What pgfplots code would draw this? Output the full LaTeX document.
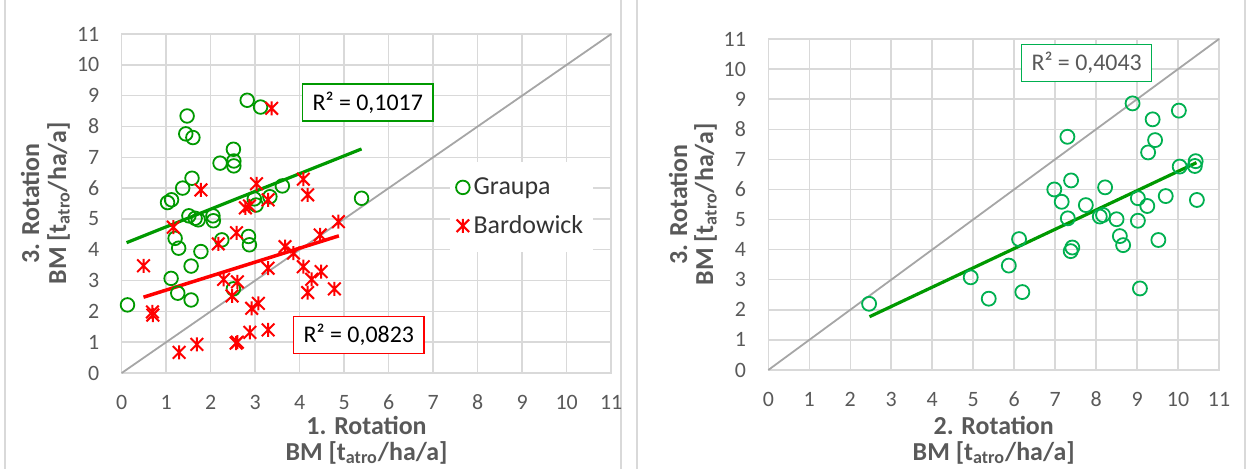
\documentclass[border=0pt]{standalone}
\usepackage{fontspec}
\setmainfont{Carlito}
\usepackage{pgfplots}
\usepackage{pgfplotstable}
\pgfplotsset{compat=1.18}
\definecolor{gridc}{HTML}{D9D9D9}
\definecolor{txt}{HTML}{595959}
\definecolor{grn}{HTML}{009900}
\definecolor{grn2}{HTML}{00B050}
\definecolor{diag}{HTML}{A6A6A6}

\pgfdeclareplotmark{xstar}{%
  \pgfpathmoveto{\pgfqpoint{0pt}{\pgfplotmarksize}}%
  \pgfpathlineto{\pgfqpoint{0pt}{-\pgfplotmarksize}}%
  \pgfpathmoveto{\pgfqpoint{-0.9\pgfplotmarksize}{-0.9\pgfplotmarksize}}%
  \pgfpathlineto{\pgfqpoint{0.9\pgfplotmarksize}{0.9\pgfplotmarksize}}%
  \pgfpathmoveto{\pgfqpoint{-0.9\pgfplotmarksize}{0.9\pgfplotmarksize}}%
  \pgfpathlineto{\pgfqpoint{0.9\pgfplotmarksize}{-0.9\pgfplotmarksize}}%
  \pgfusepathqstroke}

\pgfplotstableread{
x y
0.13 2.21
1.03 5.53
1.12 5.62
1.11 3.07
1.20 4.37
1.28 4.05
1.26 2.59
1.37 6.00
1.47 8.34
1.44 7.76
1.60 7.64
1.51 5.10
1.58 6.32
1.56 3.47
1.56 2.37
1.65 5.02
1.72 4.97
1.78 3.94
2.05 5.10
2.06 4.94
2.21 6.81
2.25 4.32
2.51 7.26
2.52 6.88
2.52 6.72
2.51 2.73
2.82 8.85
3.12 8.63
2.85 4.43
2.87 4.16
2.98 5.65
3.02 5.45
3.33 5.72
3.61 6.07
5.39 5.67
}\graupaA

\pgfplotstableread{
x y
0.49 3.48
0.69 1.98
0.70 1.88
1.29 0.67
1.69 0.93
1.16 4.73
1.78 5.94
2.17 4.19
2.29 3.04
2.48 2.50
2.57 0.97
2.60 1.00
2.58 4.55
2.60 2.96
2.78 5.36
2.87 5.42
2.88 1.32
2.92 2.10
3.07 2.26
3.03 6.14
3.29 5.62
3.37 8.59
3.29 3.40
3.29 1.40
3.67 4.10
3.86 3.89
4.08 3.45
4.08 6.29
4.18 5.78
4.27 3.04
4.48 3.29
4.46 4.48
4.18 2.61
4.78 2.73
4.87 4.91
}\bardowick

\pgfplotstableread{
x y
8.89 8.86
10.02 8.62
9.38 8.33
7.30 7.75
9.44 7.64
9.27 7.23
10.43 6.94
10.41 6.78
10.04 6.76
7.39 6.30
6.98 6.00
8.22 6.07
7.16 5.59
7.75 5.48
9.02 5.71
9.70 5.78
10.46 5.65
9.25 5.45
7.31 5.04
8.09 5.10
8.17 5.15
8.50 5.01
9.02 4.96
6.12 4.35
8.58 4.45
8.66 4.15
9.52 4.32
7.42 4.07
7.38 3.95
5.87 3.47
4.94 3.08
5.38 2.37
6.20 2.59
9.07 2.71
2.46 2.20
}\graupaB

\pgfplotsset{mystyle/.style={
  scale only axis, xmin=0, xmax=11, ymin=0, ymax=11,
  xtick={0,...,11}, ytick={0,...,11},
  grid=major, major grid style={draw=gridc, line width=0.75bp},
  axis line style={draw=gridc, line width=0.75bp},
  major tick length=0pt,
  tick label style={font=\fontsize{11}{13}\selectfont, text=txt, inner sep=0pt},
  /pgf/number format/assume math mode=true,
  xticklabel style={anchor=base, yshift=-18bp},
  yticklabel style={anchor=east, xshift=-11bp},
  clip=false,
}}

\begin{document}
\begin{tikzpicture}
\path[use as bounding box] (0,0) rectangle (623bp,234.5bp);
\draw[gridc, line width=0.75bp] (2.5bp,0) -- (2.5bp,234.5bp);
\draw[gridc, line width=0.75bp] (310.5bp,0) -- (310.5bp,234.5bp);
\draw[gridc, line width=0.75bp] (318.5bp,0) -- (318.5bp,234.5bp);
\draw[gridc, line width=0.75bp] (622.5bp,0) -- (622.5bp,234.5bp);

\begin{axis}[mystyle, at={(60.85bp,48bp)}, anchor=south west,
  width=244.75bp, height=169.5bp,
  legend style={at={(axis description cs:0.67,0.625)}, anchor=north west,
    draw=none, fill=white, font=\fontsize{13}{15}\selectfont, text=black!80,
    row sep=5bp, inner xsep=3bp, inner ysep=6bp},
  legend cell align=left]
\addplot[diag, line width=0.9bp, forget plot] coordinates {(0,0) (11,11)};
\addplot[only marks, mark=o, mark size=3.4bp, draw=grn, line width=0.9bp] table {\graupaA};
\addlegendentry{Graupa}
\addplot[only marks, mark=xstar, mark size=3.5bp, draw=red, line width=1bp] table {\bardowick};
\addlegendentry{Bardowick}
\addplot[grn, line width=1.6bp, forget plot] coordinates {(0.11,4.23) (5.39,7.27)};
\addplot[red, line width=1.75bp, forget plot] coordinates {(0.49,2.46) (4.88,4.45)};
\node[draw=grn, fill=white, line width=0.6bp, inner xsep=5bp, minimum height=18.5bp,
  font=\fontsize{12}{14}\selectfont, text=black] at (axis cs:5.53,8.78) {R² = 0,1017};
\node[draw=red, fill=white, line width=0.6bp, inner xsep=5bp, minimum height=18.5bp,
  font=\fontsize{12}{14}\selectfont, text=black] at (axis cs:5.33,1.23) {R² = 0,0823};
\end{axis}

\begin{axis}[mystyle, at={(384.15bp,49.5bp)}, anchor=south west,
  width=225.35bp, height=165.5bp]
\addplot[diag, line width=0.9bp] coordinates {(0,0) (11,11)};
\addplot[only marks, mark=o, mark size=3.5bp, draw=grn2, line width=0.9bp] table {\graupaB};
\addplot[grn, line width=1.6bp] coordinates {(2.47,1.77) (10.45,6.89)};
\node[draw=grn2, fill=white, line width=0.6bp, inner xsep=5bp, minimum height=18.5bp,
  font=\fontsize{12}{14}\selectfont, text=txt] at (axis cs:7.77,10.20) {R² = 0,4043};
\end{axis}

\tikzset{lab/.style={font=\bfseries\fontsize{13}{15}\selectfont, text=txt, inner sep=0pt, anchor=base}}
\node[lab] at (183.25bp,17.5bp) {1. Rotation};
\node[lab] at (183.25bp,4.5bp) {BM [t\textsubscript{atro}/ha/a]};
\node[lab] at (496.85bp,17.5bp) {2. Rotation};
\node[lab] at (496.85bp,4.5bp) {BM [t\textsubscript{atro}/ha/a]};
\node[lab, rotate=90] at (19.5bp,132.75bp) {3. Rotation};
\node[lab, rotate=90] at (33bp,132.75bp) {BM [t\textsubscript{atro}/ha/a]};
\node[lab, rotate=90] at (343.5bp,132.25bp) {3. Rotation};
\node[lab, rotate=90] at (356.5bp,132.25bp) {BM [t\textsubscript{atro}/ha/a]};
\end{tikzpicture}
\end{document}
